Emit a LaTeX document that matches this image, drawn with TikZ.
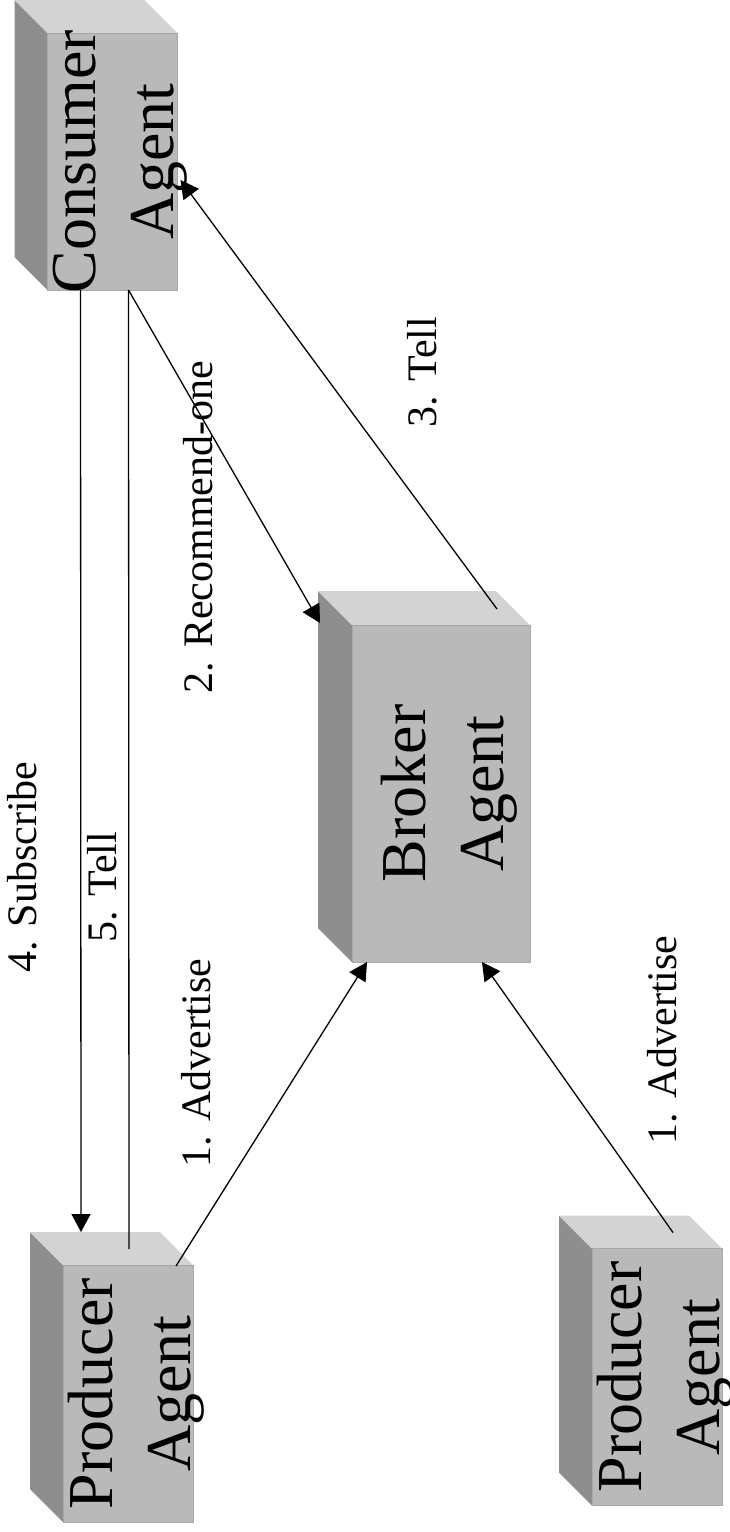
\documentclass[tikz,border=0pt]{standalone}
\usepackage{fontspec}
\setmainfont{Liberation Serif}
\usetikzlibrary{arrows.meta,calc,backgrounds}

\definecolor{frontgray}{RGB}{185,185,185}
\definecolor{topgray}{RGB}{211,211,211}
\definecolor{sidegray}{RGB}{142,142,142}
\definecolor{edgegray}{RGB}{168,168,168}

% side and top faces of a box whose front face is node #1, depth #2
\newcommand\agentfaces[2]{%
  \fill[sidegray] (#1.north west) -- ++(-#2,-#2) -- ($(#1.south west)+(-#2,-#2)$) -- (#1.south west) -- cycle;
  \fill[topgray] (#1.north west) -- ++(-#2,-#2) -- ($(#1.north east)+(-#2,-#2)$) -- (#1.north east) -- cycle;
}

\tikzset{
  agentfront/.style={rectangle, fill=frontgray, draw=edgegray, line width=0.8pt, inner sep=0pt, outer sep=0pt},
  smallbox/.style={agentfront, minimum width=130pt, minimum height=257pt},
  bigbox/.style={agentfront, minimum width=178pt, minimum height=337pt},
  agenttext/.style={rotate=90, align=center, inner sep=0pt, font=\fontsize{64}{78}\selectfont},
  msglabel/.style={rotate=90, inner sep=0pt, font=\fontsize{42}{50}\selectfont},
  msg/.style={line width=1.3pt},
  msgarrow/.style={msg, -{Triangle[length=18pt,width=19pt]}}
}

\begin{document}
\begin{tikzpicture}[x=1pt, y=-1pt]
  \useasboundingbox (0,0) rectangle (730,1532);

  % front faces of the four agents
  \node[smallbox] (cons)  at (112.5,161.5) {};
  \node[bigbox]   (brok)  at (441,793.5) {};
  \node[smallbox] (prodA) at (128,1393.5) {};
  \node[smallbox] (prodB) at (657,1377) {};

  % white sheet, then the side and top faces behind the front faces
  \begin{scope}[on background layer]
    \fill[white] (0,0) rectangle (730,1532);
    \agentfaces{cons}{33}
    \agentfaces{brok}{34}
    \agentfaces{prodA}{33}
    \agentfaces{prodB}{33}
  \end{scope}

  % agent names
  \node[agenttext] (consT)  at ($(cons.center)+(8,0)$)  {Consumer\\Agent};
  \node[agenttext] (brokT)  at ($(brok.center)+(8,0)$)  {Broker\\Agent};
  \node[agenttext] (prodAT) at ($(prodA.center)+(8,0)$) {Producer\\Agent};
  \node[agenttext] (prodBT) at ($(prodB.center)+(8,0)$) {Producer\\Agent};

  % messages
  \draw[msgarrow] ($(cons.south west)+(33,0)$) -- ($(prodA.north west)+(18,-33)$);
  \draw[msg]      ($(prodA.north west)+(66,-16)$) -- ($(cons.south west)+(81,0)$);
  \draw[msgarrow] ($(cons.south west)+(81,0)$) -- ($(brok.north west)+(-32,-2)$);
  \draw[msgarrow] ($(brok.north west)+(145,-16)$) -- ($(cons.north east)+(3,147)$);
  \draw[msgarrow] ($(prodA.north east)+(-17,1)$) -- ($(brok.south west)+(15,0)$);
  \draw[msgarrow] ($(prodB.north west)+(81,-16)$) -- ($(brok.south east)+(-48,0)$);

  % message labels
  \node[msglabel] (lSub)  at (22.5,867) {4. Subscribe};
  \node[msglabel] (lTell5) at (102,887) {5. Tell};
  \node[msglabel] (lAdvA) at (196,1063) {1. Advertise};
  \node[msglabel] (lRec)  at (198,527) {2. Recommend-one};
  \node[msglabel] (lTell3) at (422,372) {3. Tell};
  \node[msglabel] (lAdvB) at (662,1040) {1. Advertise};
\end{tikzpicture}
\end{document}
